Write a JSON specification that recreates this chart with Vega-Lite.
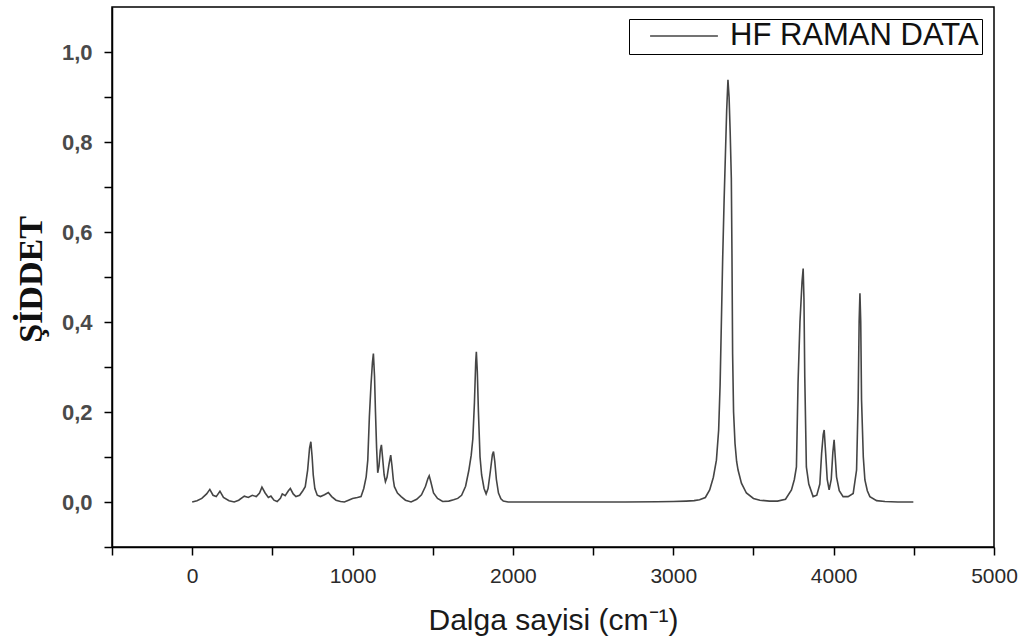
{
  "$schema": "https://vega.github.io/schema/vega-lite/v6.json",
  "width": 882,
  "height": 540,
  "autosize": {"type": "none"},
  "padding": {"left": 112, "top": 7, "right": 33, "bottom": 94},
  "background": "#ffffff",
  "config": {
    "view": {"stroke": "#000000", "strokeWidth": 1.5},
    "axis": {
      "domainColor": "#000000", "domainWidth": 1.5,
      "tickColor": "#000000", "tickWidth": 1.5, "tickSize": 8,
      "labelFont": "Liberation Sans", "labelColor": "#2a2a2a",
      "grid": false
    }
  },
  "data": {"values": [
    {"w": 0, "i": 0.0}, {"w": 30, "i": 0.003}, {"w": 60, "i": 0.008}, {"w": 90, "i": 0.018},
    {"w": 110, "i": 0.028}, {"w": 130, "i": 0.015}, {"w": 150, "i": 0.012}, {"w": 173, "i": 0.024},
    {"w": 195, "i": 0.01}, {"w": 230, "i": 0.003}, {"w": 262, "i": 0.0}, {"w": 290, "i": 0.004},
    {"w": 325, "i": 0.013}, {"w": 350, "i": 0.01}, {"w": 375, "i": 0.015}, {"w": 400, "i": 0.012},
    {"w": 420, "i": 0.02}, {"w": 435, "i": 0.033}, {"w": 455, "i": 0.02}, {"w": 475, "i": 0.01},
    {"w": 491, "i": 0.013}, {"w": 510, "i": 0.004}, {"w": 530, "i": 0.001}, {"w": 550, "i": 0.008},
    {"w": 562, "i": 0.018}, {"w": 580, "i": 0.014}, {"w": 600, "i": 0.025}, {"w": 612, "i": 0.03},
    {"w": 630, "i": 0.018}, {"w": 647, "i": 0.012}, {"w": 670, "i": 0.015}, {"w": 690, "i": 0.025},
    {"w": 705, "i": 0.034}, {"w": 720, "i": 0.071}, {"w": 732, "i": 0.12}, {"w": 740, "i": 0.134},
    {"w": 748, "i": 0.1}, {"w": 755, "i": 0.06}, {"w": 765, "i": 0.03}, {"w": 780, "i": 0.015},
    {"w": 800, "i": 0.012}, {"w": 825, "i": 0.016}, {"w": 849, "i": 0.021}, {"w": 870, "i": 0.012},
    {"w": 897, "i": 0.004}, {"w": 925, "i": 0.001}, {"w": 949, "i": 0.0}, {"w": 975, "i": 0.004},
    {"w": 1000, "i": 0.008}, {"w": 1030, "i": 0.01}, {"w": 1053, "i": 0.012}, {"w": 1070, "i": 0.03},
    {"w": 1085, "i": 0.056}, {"w": 1095, "i": 0.093}, {"w": 1105, "i": 0.19}, {"w": 1115, "i": 0.26},
    {"w": 1124, "i": 0.31}, {"w": 1130, "i": 0.33}, {"w": 1137, "i": 0.28}, {"w": 1143, "i": 0.2},
    {"w": 1150, "i": 0.12}, {"w": 1157, "i": 0.065}, {"w": 1165, "i": 0.08}, {"w": 1173, "i": 0.115},
    {"w": 1180, "i": 0.127}, {"w": 1187, "i": 0.1}, {"w": 1197, "i": 0.06}, {"w": 1205, "i": 0.045},
    {"w": 1215, "i": 0.055}, {"w": 1228, "i": 0.085}, {"w": 1238, "i": 0.104}, {"w": 1246, "i": 0.08},
    {"w": 1254, "i": 0.05}, {"w": 1261, "i": 0.034}, {"w": 1280, "i": 0.02}, {"w": 1303, "i": 0.012},
    {"w": 1330, "i": 0.004}, {"w": 1365, "i": 0.0}, {"w": 1400, "i": 0.006}, {"w": 1430, "i": 0.016},
    {"w": 1455, "i": 0.035}, {"w": 1470, "i": 0.052}, {"w": 1478, "i": 0.058}, {"w": 1488, "i": 0.045},
    {"w": 1505, "i": 0.02}, {"w": 1530, "i": 0.008}, {"w": 1562, "i": 0.001}, {"w": 1600, "i": 0.002},
    {"w": 1630, "i": 0.005}, {"w": 1656, "i": 0.008}, {"w": 1680, "i": 0.015}, {"w": 1705, "i": 0.035},
    {"w": 1725, "i": 0.07}, {"w": 1740, "i": 0.104}, {"w": 1750, "i": 0.14}, {"w": 1760, "i": 0.22},
    {"w": 1768, "i": 0.31}, {"w": 1772, "i": 0.334}, {"w": 1778, "i": 0.29}, {"w": 1785, "i": 0.2},
    {"w": 1795, "i": 0.1}, {"w": 1805, "i": 0.06}, {"w": 1820, "i": 0.03}, {"w": 1833, "i": 0.018},
    {"w": 1845, "i": 0.03}, {"w": 1860, "i": 0.07}, {"w": 1872, "i": 0.105}, {"w": 1879, "i": 0.112},
    {"w": 1887, "i": 0.09}, {"w": 1897, "i": 0.05}, {"w": 1910, "i": 0.02}, {"w": 1925, "i": 0.007},
    {"w": 1940, "i": 0.002}, {"w": 1970, "i": 0.0}, {"w": 2100, "i": 0.0}, {"w": 2400, "i": 0.0},
    {"w": 2700, "i": 0.0}, {"w": 2900, "i": 0.0005}, {"w": 3000, "i": 0.001}, {"w": 3080, "i": 0.002},
    {"w": 3130, "i": 0.003}, {"w": 3164, "i": 0.005}, {"w": 3200, "i": 0.01}, {"w": 3227, "i": 0.027},
    {"w": 3250, "i": 0.055}, {"w": 3269, "i": 0.093}, {"w": 3283, "i": 0.16}, {"w": 3292, "i": 0.26},
    {"w": 3300, "i": 0.4}, {"w": 3308, "i": 0.54}, {"w": 3317, "i": 0.67}, {"w": 3325, "i": 0.77},
    {"w": 3333, "i": 0.87}, {"w": 3341, "i": 0.938}, {"w": 3348, "i": 0.9}, {"w": 3355, "i": 0.82},
    {"w": 3362, "i": 0.72}, {"w": 3366, "i": 0.55}, {"w": 3370, "i": 0.33}, {"w": 3376, "i": 0.2},
    {"w": 3385, "i": 0.13}, {"w": 3395, "i": 0.09}, {"w": 3404, "i": 0.071}, {"w": 3425, "i": 0.042},
    {"w": 3456, "i": 0.02}, {"w": 3500, "i": 0.008}, {"w": 3540, "i": 0.004}, {"w": 3600, "i": 0.002},
    {"w": 3650, "i": 0.002}, {"w": 3700, "i": 0.006}, {"w": 3737, "i": 0.027}, {"w": 3755, "i": 0.05},
    {"w": 3768, "i": 0.078}, {"w": 3778, "i": 0.264}, {"w": 3790, "i": 0.4}, {"w": 3803, "i": 0.49},
    {"w": 3810, "i": 0.519}, {"w": 3815, "i": 0.45}, {"w": 3820, "i": 0.278}, {"w": 3830, "i": 0.078},
    {"w": 3845, "i": 0.04}, {"w": 3872, "i": 0.012}, {"w": 3895, "i": 0.015}, {"w": 3914, "i": 0.04},
    {"w": 3925, "i": 0.108}, {"w": 3935, "i": 0.15}, {"w": 3941, "i": 0.16}, {"w": 3950, "i": 0.11},
    {"w": 3960, "i": 0.05}, {"w": 3972, "i": 0.027}, {"w": 3985, "i": 0.05}, {"w": 3995, "i": 0.11},
    {"w": 4003, "i": 0.138}, {"w": 4010, "i": 0.1}, {"w": 4018, "i": 0.056}, {"w": 4035, "i": 0.025},
    {"w": 4059, "i": 0.012}, {"w": 4090, "i": 0.012}, {"w": 4122, "i": 0.019}, {"w": 4143, "i": 0.071},
    {"w": 4153, "i": 0.227}, {"w": 4159, "i": 0.4}, {"w": 4164, "i": 0.464}, {"w": 4169, "i": 0.4},
    {"w": 4174, "i": 0.227}, {"w": 4185, "i": 0.1}, {"w": 4195, "i": 0.049}, {"w": 4210, "i": 0.025},
    {"w": 4226, "i": 0.012}, {"w": 4268, "i": 0.003}, {"w": 4320, "i": 0.001}, {"w": 4400, "i": 0.0},
    {"w": 4497, "i": 0.0}
  ]},
  "mark": {"type": "line", "strokeWidth": 1.6, "interpolate": "linear", "clip": true},
  "encoding": {
    "x": {
      "field": "w", "type": "quantitative",
      "scale": {"domain": [-500, 5000], "nice": false, "zero": false},
      "axis": {
        "values": [-500, 0, 500, 1000, 1500, 2000, 2500, 3000, 3500, 4000, 4500, 5000],
        "labelExpr": "datum.value % 1000 === 0 && datum.value >= 0 ? format(datum.value, 'd') : ''",
        "labelFontSize": 21,
        "labelPadding": 10,
        "labelFlush": false,
        "title": "Dalga sayisi (cm⁻¹)",
        "titleFont": "Liberation Sans", "titleFontSize": 30, "titleFontWeight": "normal",
        "titleColor": "#1a1a1a", "titlePadding": 19
      }
    },
    "y": {
      "field": "i", "type": "quantitative",
      "scale": {"domain": [-0.1, 1.1], "nice": false, "zero": false},
      "axis": {
        "values": [-0.1, 0, 0.1, 0.2, 0.3, 0.4, 0.5, 0.6, 0.7, 0.8, 0.9, 1.0],
        "labelExpr": "(round(datum.value * 10) % 2 === 0 && datum.value >= 0) ? replace(format(datum.value, '.1f'), '.', ',') : ''",
        "labelFontSize": 22,
        "labelFontWeight": "bold",
        "labelColor": "#4a4a4a",
        "labelPadding": 12,
        "labelFlush": false,
        "title": "ŞİDDET",
        "titleFont": "Liberation Serif", "titleFontSize": 34, "titleFontWeight": "bold",
        "titleColor": "#111111",
        "titleX": -81, "titleY": 272, "titleBaseline": "middle", "titleAlign": "center", "titleAngle": -90
      }
    },
    "color": {
      "datum": "HF RAMAN DATA",
      "type": "nominal",
      "scale": {"range": ["#454545"]},
      "legend": {
        "title": null,
        "orient": "top-right",
        "offset": 12,
        "symbolType": "stroke",
        "symbolSize": 4600,
        "symbolStrokeWidth": 1.5,
        "symbolOffset": 17,
        "clipHeight": 28,
        "labelFont": "Liberation Sans",
        "labelFontSize": 31,
        "labelColor": "#111111",
        "labelOffset": 11,
        "labelLimit": 400,
        "strokeColor": "#000000",
        "padding": 3,
        "fillColor": "#ffffff"
      }
    }
  }
}
